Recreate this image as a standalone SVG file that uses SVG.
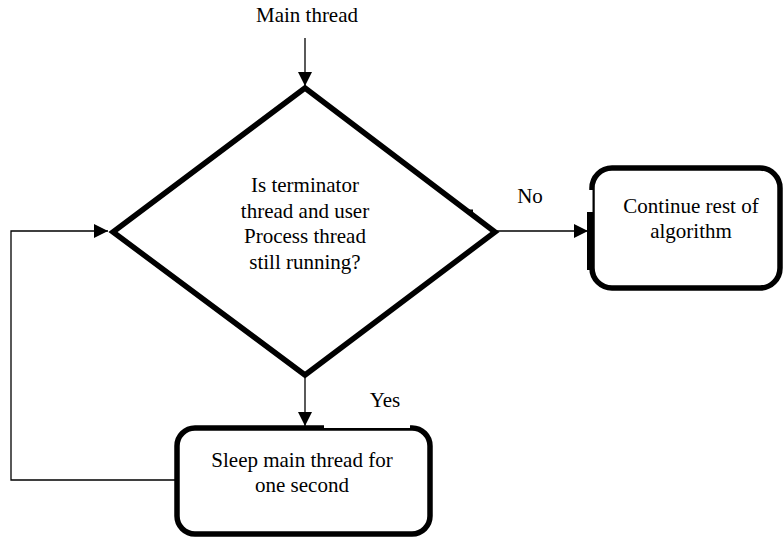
<svg xmlns="http://www.w3.org/2000/svg" width="783" height="539" viewBox="0 0 783 539">
<style>
text{font-family:'Liberation Serif', 'Times New Roman', Times, serif;font-size:21px;fill:#000;text-anchor:middle}
.shape{fill:#fff;stroke:#000;stroke-width:5.5;stroke-linejoin:miter}
.box{fill:#fff;stroke:#000;stroke-width:5.5}
.conn{fill:none;stroke:#000;stroke-width:1.3}
.blk{fill:#000}
.wht{fill:#fff}
</style>
<defs>
<marker id="ah" markerUnits="userSpaceOnUse" markerWidth="14" markerHeight="14" viewBox="0 0 14 14" refX="14" refY="7" orient="auto">
<path d="M0,0 L14,7 L0,14 Z" fill="#000"/>
</marker>
</defs>
<g id="connectors">
<line class="conn" x1="305" y1="38" x2="305" y2="86" marker-end="url(#ah)"/>
<line class="conn" x1="497" y1="231" x2="588" y2="231" marker-end="url(#ah)"/>
<line class="conn" x1="305" y1="378" x2="305" y2="426" marker-end="url(#ah)"/>
<polyline class="conn" points="177,480 11,480 11,231 108,231" marker-end="url(#ah)"/>
</g>
<g id="start">
<text x="307" y="22">Main thread</text>
</g>
<g id="decision">
<polygon class="shape" points="305,88 495,232 305,375 113,232"/>
<rect class="blk" x="468" y="209.5" width="5" height="3"/>
<text x="305" y="192">Is terminator</text>
<text x="305" y="217.5">thread and user</text>
<text x="305" y="243">Process thread</text>
<text x="305" y="268.5">still running?</text>
</g>
<g id="continue">
<rect class="box" x="592" y="168" width="188" height="120" rx="20" ry="20"/>
<rect class="wht" x="588.5" y="190" width="4" height="22"/>
<rect class="blk" x="587" y="212" width="4" height="58"/>
<text x="691" y="213">Continue rest of</text>
<text x="691" y="238">algorithm</text>
</g>
<g id="sleep">
<rect class="box" x="177" y="428" width="253" height="106" rx="18" ry="18"/>
<rect class="wht" x="324" y="424.5" width="86" height="3.5"/>
<text x="302" y="467">Sleep main thread for</text>
<text x="302" y="492">one second</text>
</g>
<g id="labels">
<text x="530" y="203">No</text>
<text x="385" y="407">Yes</text>
</g>
</svg>
